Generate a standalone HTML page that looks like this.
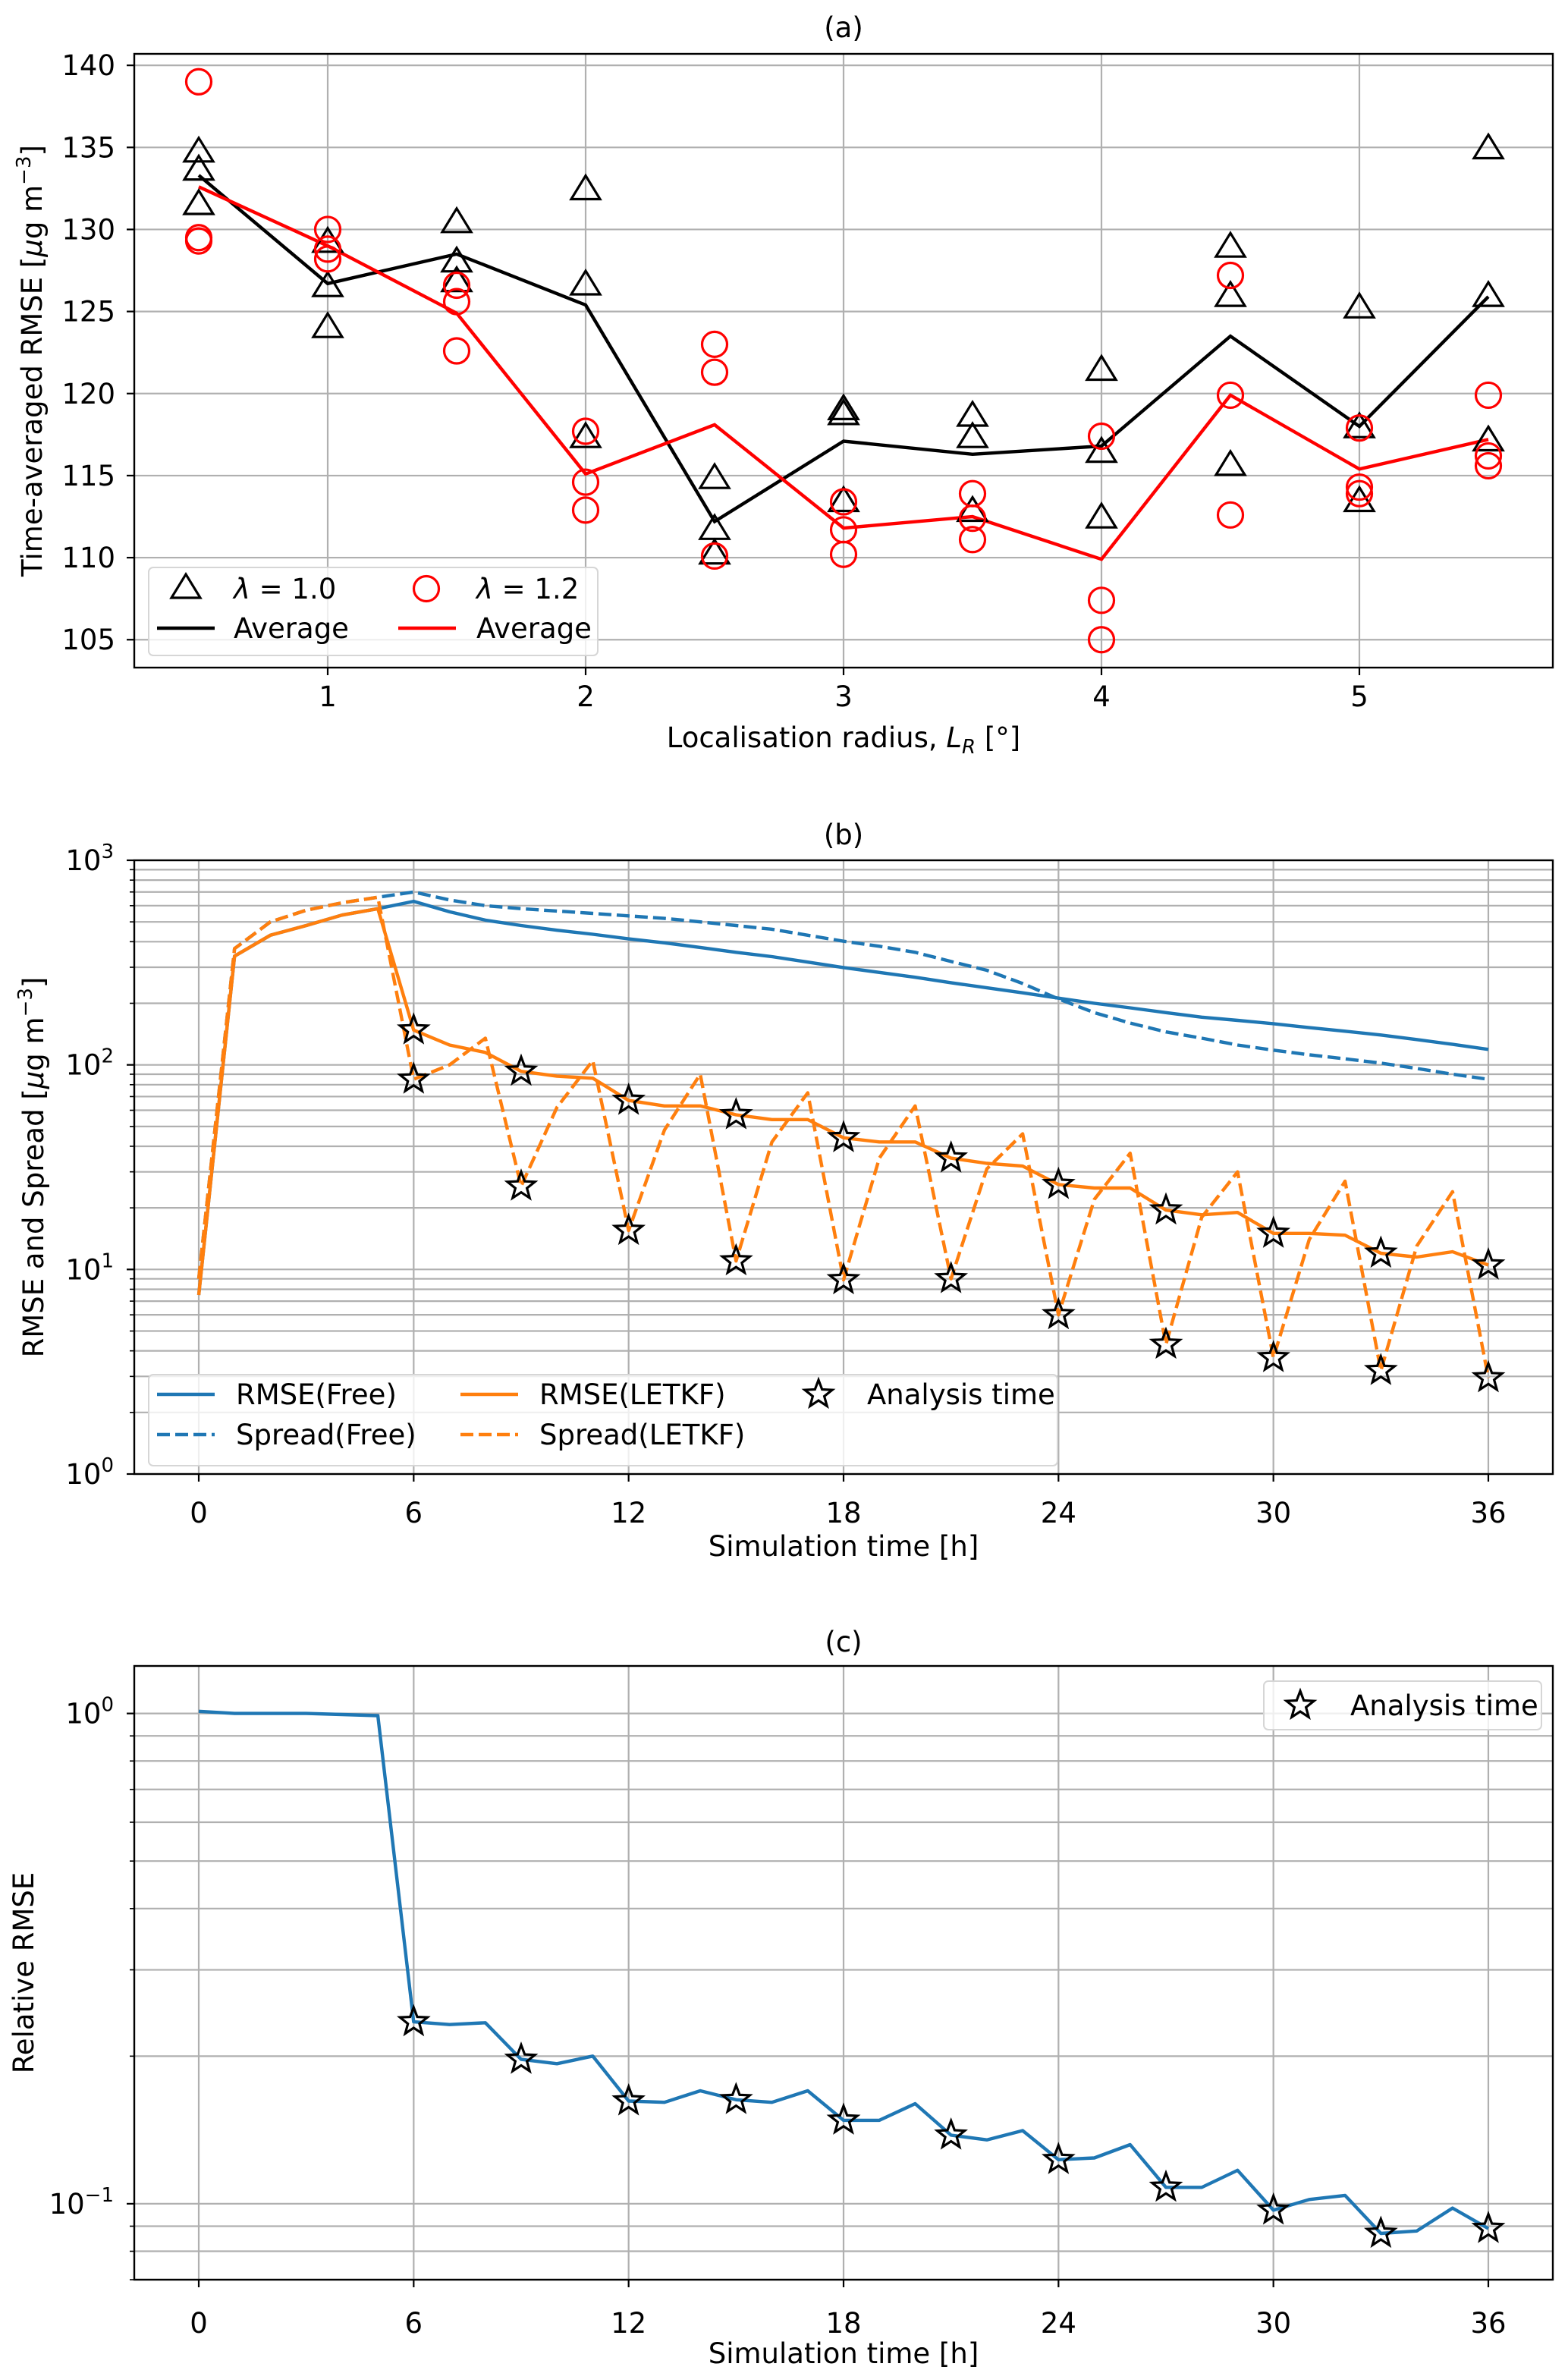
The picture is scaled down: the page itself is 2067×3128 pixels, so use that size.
<!DOCTYPE html>
<html><head><meta charset="utf-8"><style>
html,body{margin:0;padding:0;background:#fff;}
svg{display:block;font-family:"DejaVu Sans","Liberation Sans",sans-serif;}
</style></head><body>
<svg id="fig" xmlns="http://www.w3.org/2000/svg" width="2067" height="3128" viewBox="0 0 2067 3128">
<rect x="0" y="0" width="2067" height="3128" fill="#fff"/>
</svg>
<script>
// ---------- Panel (a) data ----------
const aRadius=[0.5,1,1.5,2,2.5,3,3.5,4,4.5,5,5.5];
const aTri1=[134.7,129.2,130.4,132.4,114.8,119.0,118.6,121.4,128.9,125.2,134.9];
const aTri2=[133.6,126.5,128.0,126.6,111.7,118.7,117.3,116.4,125.9,117.9,125.9];
const aTri3=[131.5,124.0,126.8,117.3,110.2,113.4,112.8,112.4,115.6,113.4,117.1];
const aTriAvg=[133.3,126.7,128.5,125.4,112.2,117.1,116.3,116.8,123.5,118.0,125.9];
const aCir1=[139.0,130.0,126.6,117.7,123.0,113.4,113.9,117.4,127.2,117.9,119.9];
const aCir2=[129.5,128.8,125.6,114.6,121.3,111.7,112.4,107.4,119.9,114.3,116.2];
const aCir3=[129.3,128.2,122.6,112.9,110.1,110.2,111.1,105.0,112.6,113.9,115.6];
const aCirAvg=[132.6,129.0,124.9,115.1,118.1,111.8,112.5,109.9,119.9,115.4,117.2];
const aYTicks=[105,110,115,120,125,130,135,140];
const aXTicks=[1,2,3,4,5];
// ---------- Panel (b) data ----------
const hours=[0,1,2,3,4,5,6,7,8,9,10,11,12,13,14,15,16,17,18,19,20,21,22,23,24,25,26,27,28,29,30,31,32,33,34,35,36];
const rmseFree=[7.5,340,430,480,540,580,630,560,510,480,455,435,413,395,375,355,338,318,299,283,268,252,238,225,212,200,190,180,171,165,159,152,146,140,133,126,119];
const spreadFree=[9,370,500,570,620,660,700,640,600,580,565,550,535,520,500,480,460,430,402,380,355,320,290,250,210,180,160,145,135,125,118,112,107,102,96,90,85];
const rmseLetkf=[7.5,340,430,480,540,580,148,125,115,93,88,86,67,63,63,57,54,54,44,42,42,35,33,32,26,25,25,19.5,18.5,19,15,15,14.7,12,11.5,12.2,10.5];
const spreadLetkf=[9,370,500,570,620,660,85,100,135,25.5,62,105,15.5,48,90,11,42,73,8.9,35,63,9,31,46,6,22,37,4.3,18,30,3.7,14,27,3.2,13,24,2.95];
const analysisHours=[6,9,12,15,18,21,24,27,30,33,36];
const timeTicks=[0,6,12,18,24,30,36];
const bDecades=[0,1,2,3];
// ---------- Panel (c) data ----------
const relRmse=[1.01,1.0,1.0,1.0,0.995,0.99,0.235,0.232,0.234,0.197,0.193,0.2,0.162,0.161,0.17,0.163,0.161,0.17,0.148,0.148,0.16,0.138,0.135,0.141,0.123,0.124,0.132,0.108,0.108,0.117,0.097,0.102,0.104,0.087,0.088,0.098,0.089];
const cDecades=[-1,0];

const FS=37;
const NS="http://www.w3.org/2000/svg";
const svg=document.getElementById('fig');
function mk(tag,attrs,parent){const e=document.createElementNS(NS,tag);for(const k in attrs)e.setAttribute(k,attrs[k]);(parent||svg).appendChild(e);return e;}
function txt(s,x,y,size,anchor,parent){const t=mk('text',{x:x,y:y,'font-size':size,'text-anchor':anchor||'middle',fill:'#000'},parent);t.textContent=s;return t;}
function poly(pts){return pts.map(p=>p[0].toFixed(1)+','+p[1].toFixed(1)).join(' ');}
function starPts(cx,cy,R){const r=R*0.42,p=[];for(let i=0;i<10;i++){const a=-Math.PI/2+i*Math.PI/5,rr=i%2?r:R;p.push([cx+rr*Math.cos(a),cy+rr*Math.sin(a)]);}return p;}
function drawStar(cx,cy,g){const s=mk('polygon',{points:poly(starPts(cx,cy,19)),fill:'none',stroke:'#000','stroke-width':3.2,'stroke-linejoin':'miter'},g);return s;}
function logTickLabel(exp,x,y,g){const t=mk('text',{x:x,y:y,'font-size':FS,'text-anchor':'end',fill:'#000'},g);const a=mk('tspan',{},t);a.textContent='10';const b=mk('tspan',{dy:-16,'font-size':26},t);b.textContent=(exp<0?'\u2212':'')+Math.abs(exp);return t;}

// ================= Panel (a) =================
(function(){
 const L=177,R=2047,T=71,B=880;
 const xmin=0.25,xmax=5.75,ymin=103.3,ymax=140.7;
 const X=v=>L+(v-xmin)/(xmax-xmin)*(R-L);
 const Y=v=>B-(v-ymin)/(ymax-ymin)*(B-T);
 const g=mk('g',{});
 
 
 const grid=mk('g',{stroke:'#b0b0b0','stroke-width':2.2},g);
 
 
 aXTicks.forEach(v=>{mk('line',{x1:X(v),x2:X(v),y1:T,y2:B},grid);});
 aYTicks.forEach(v=>{mk('line',{x1:L,x2:R,y1:Y(v),y2:Y(v)},grid);});
 const avgB=mk('polyline',{points:poly(aRadius.map((r,i)=>[X(r),Y(aTriAvg[i])])),fill:'none',stroke:'#000','stroke-width':4.4},g);
 
 
 const avgR=mk('polyline',{points:poly(aRadius.map((r,i)=>[X(r),Y(aCirAvg[i])])),fill:'none',stroke:'#ff0000','stroke-width':4.4},g);
 
 
 [aTri1,aTri2,aTri3].forEach(arr=>{arr.forEach((v,i)=>{const cx=X(aRadius[i]),cy=Y(v);
  const m=mk('polygon',{points:poly([[cx,cy-19],[cx+19,cy+12],[cx-19,cy+12]]),fill:'none',stroke:'#000','stroke-width':3.2},g);
  
  });});
 [aCir1,aCir2,aCir3].forEach(arr=>{arr.forEach((v,i)=>{
  const m=mk('circle',{cx:X(aRadius[i]),cy:Y(v),r:16.5,fill:'none',stroke:'#ff0000','stroke-width':3.2},g);
  
  });});
 const fr=mk('rect',{x:L,y:T,width:R-L,height:B-T,fill:'none',stroke:'#000','stroke-width':2.4},g);
 
 
 aYTicks.forEach(v=>{mk('line',{x1:L-10,x2:L,y1:Y(v),y2:Y(v),stroke:'#000','stroke-width':2.2},g);
  const t=txt(String(v),152,Y(v)+13,FS,'end',g);
  
  });
 aXTicks.forEach(v=>{mk('line',{x1:X(v),x2:X(v),y1:B,y2:B+10,stroke:'#000','stroke-width':2.2},g);
  const t=txt(String(v),X(v),931,FS,'middle',g);
  
  });
 const ti=txt('(a)',(L+R)/2,49,FS,'middle',g);
 
 
 const xl=mk('text',{x:(L+R)/2,y:985,'font-size':FS,'text-anchor':'middle'},g);
 xl.innerHTML='Localisation radius, <tspan font-style="italic">L</tspan><tspan font-style="italic" font-size="26" dy="8">R</tspan><tspan dy="-8"> [°]</tspan>';
 
 
 const yl=mk('text',{x:0,y:0,'font-size':FS,'text-anchor':'middle',transform:'translate(55,'+((T+B)/2)+') rotate(-90)'},g);
 yl.innerHTML='Time-averaged RMSE [<tspan font-style="italic">μ</tspan>g m<tspan font-size="26" dy="-15">−3</tspan><tspan dy="15">]</tspan>';
 
 
 // legend
 const lg=mk('g',{},g);
 
 
 mk('rect',{x:196,y:748,width:592,height:116,rx:6,fill:'#fff','fill-opacity':0.8,stroke:'#d6d6d6','stroke-width':2},lg);
 const cx=245,cy=776;
 mk('polygon',{points:poly([[cx,cy-19],[cx+19,cy+12],[cx-19,cy+12]]),fill:'none',stroke:'#000','stroke-width':3.2},lg);
 const t1=mk('text',{x:308,y:789,'font-size':FS},lg);t1.innerHTML='<tspan font-style="italic">λ</tspan> = 1.0';
 
 
 mk('circle',{cx:562,cy:776,r:16.5,fill:'none',stroke:'#ff0000','stroke-width':3.2},lg);
 const t2=mk('text',{x:628,y:789,'font-size':FS},lg);t2.innerHTML='<tspan font-style="italic">λ</tspan> = 1.2';
 
 
 mk('line',{x1:207,x2:283,y1:828,y2:828,stroke:'#000','stroke-width':4.4},lg);
 const t3=txt('Average',308,841,FS,'start',lg);
 
 
 mk('line',{x1:525,x2:601,y1:828,y2:828,stroke:'#ff0000','stroke-width':4.4},lg);
 const t4=txt('Average',628,841,FS,'start',lg);
 
 
})();

// ================= Shared time-axis panel builder =================
function timePanel(name,T,B,lmin,lmax,decades,minorSet,xlabelY,tickY,titleY,titleText,ylabX,ylabHTML){
 const L=177,R=2047,xmin=-1.8,xmax=37.8;
 const X=v=>L+(v-xmin)/(xmax-xmin)*(R-L);
 const Y=v=>B-(Math.log10(v)-lmin)/(lmax-lmin)*(B-T);
 const g=mk('g',{});
 
 
 const grid=mk('g',{stroke:'#b0b0b0','stroke-width':2.2},g);
 
 
 timeTicks.forEach(v=>mk('line',{x1:X(v),x2:X(v),y1:T,y2:B},grid));
 minorSet.forEach(v=>{const y=Y(v);if(y>=T-0.5&&y<=B+0.5){mk('line',{x1:L,x2:R,y1:y,y2:y},grid);mk('line',{x1:L-6,x2:L,y1:y,y2:y,stroke:'#000','stroke-width':1.6},g);}});
 decades.forEach(d=>{const y=Y(Math.pow(10,d));mk('line',{x1:L,x2:R,y1:y,y2:y},grid);});
 return {g,X,Y,L,R,T,B,finish:function(){
  const fr=mk('rect',{x:L,y:T,width:R-L,height:B-T,fill:'none',stroke:'#000','stroke-width':2.4},g);
  
  
  decades.forEach(d=>{const y=Y(Math.pow(10,d));mk('line',{x1:L-10,x2:L,y1:y,y2:y,stroke:'#000','stroke-width':2.2},g);
   const t=logTickLabel(d,150,y+13,g);
   
   });
  timeTicks.forEach(v=>{mk('line',{x1:X(v),x2:X(v),y1:B,y2:B+10,stroke:'#000','stroke-width':2.2},g);
   const t=txt(String(v),X(v),tickY,FS,'middle',g);
   
   });
  const ti=txt(titleText,(L+R)/2,titleY,FS,'middle',g);
  
  
  const xl=txt('Simulation time [h]',(L+R)/2,xlabelY,FS,'middle',g);
  
  
  const yl=mk('text',{x:0,y:0,'font-size':FS,'text-anchor':'middle',transform:'translate('+ylabX+','+((T+B)/2)+') rotate(-90)'},g);
  yl.innerHTML=ylabHTML;
  
  
 }};
}

// ================= Panel (b) =================
(function(){
 const minor=[];[1,10,100].forEach(b=>{for(let k=2;k<10;k++)minor.push(b*k);});
 const P=timePanel('b',1134,1943,0,3,bDecades,minor,2051,2007,1113,'(b)',57,'RMSE and Spread [<tspan font-style="italic">μ</tspan>g m<tspan font-size="26" dy="-15">−3</tspan><tspan dy="15">]</tspan>');
 const {g,X,Y}=P;
 function line(arr,color,dash,nm){const l=mk('polyline',{points:poly(hours.map((h,i)=>[X(h),Y(arr[i])])),fill:'none',stroke:color,'stroke-width':4.4,'stroke-linejoin':'round'},g);if(dash)l.setAttribute('stroke-dasharray',dash);
  
  }
 line(rmseFree,'#1f77b4',null,'rmse-free-line');
 line(spreadFree,'#1f77b4','17 7','spread-free-line');
 line(rmseLetkf,'#ff7f0e',null,'rmse-letkf-line');
 line(spreadLetkf,'#ff7f0e','17 7','spread-letkf-line');
 analysisHours.forEach(h=>{const i=hours.indexOf(h);
  const s1=drawStar(X(h),Y(rmseLetkf[i]),g);
  
  
  const s2=drawStar(X(h),Y(spreadLetkf[i]),g);
  
  });
 P.finish();
 const lg=mk('g',{},g);
 
 
 mk('rect',{x:196,y:1812,width:1198,height:120,rx:6,fill:'#fff','fill-opacity':0.8,stroke:'#d6d6d6','stroke-width':2},lg);
 const ents=[[207,1838,'#1f77b4',null,'RMSE(Free)',311],[207,1891,'#1f77b4','17 7','Spread(Free)',311],[607,1838,'#ff7f0e',null,'RMSE(LETKF)',711],[607,1891,'#ff7f0e','17 7','Spread(LETKF)',711]];
 ents.forEach(e=>{const l=mk('line',{x1:e[0],x2:e[0]+76,y1:e[1],y2:e[1],stroke:e[2],'stroke-width':4.4},lg);if(e[3])l.setAttribute('stroke-dasharray',e[3]);
  const t=txt(e[4],e[5],e[1]+13,FS,'start',lg);
  
  });
 drawStar(1079,1838,lg);
 const t=txt('Analysis time',1143,1851,FS,'start',lg);
 
 
})();

// ================= Panel (c) =================
(function(){
 const minor=[];[0.01,0.1].forEach(b=>{for(let k=2;k<10;k++)minor.push(b*k);});
 const P=timePanel('c',2196,3005,Math.log10(0.07),Math.log10(1.25),cDecades,minor,3115,3075,2177,'(c)',44,'Relative RMSE');
 const {g,X,Y}=P;
 const l=mk('polyline',{points:poly(hours.map((h,i)=>[X(h),Y(relRmse[i])])),fill:'none',stroke:'#1f77b4','stroke-width':4.4,'stroke-linejoin':'round'},g);
 
 
 analysisHours.forEach(h=>{const i=hours.indexOf(h);
  const s=drawStar(X(h),Y(relRmse[i]),g);
  
  });
 P.finish();
 const lg=mk('g',{},g);
 
 
 mk('rect',{x:1666,y:2216,width:366,height:64,rx:6,fill:'#fff','fill-opacity':0.8,stroke:'#d6d6d6','stroke-width':2},lg);
 drawStar(1714,2248,lg);
 const t=txt('Analysis time',1780,2261,FS,'start',lg);
 
 
})();
</script>
</body></html>
